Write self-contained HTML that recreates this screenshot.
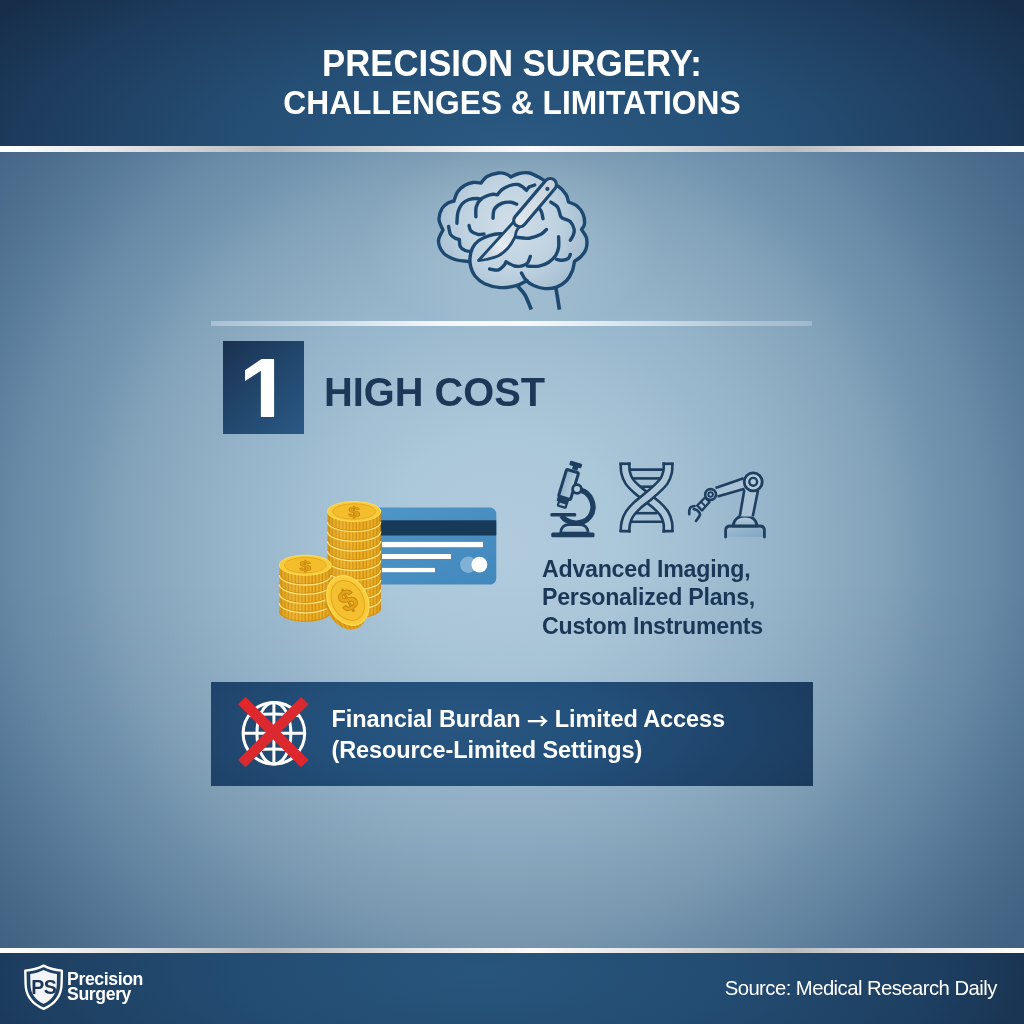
<!DOCTYPE html>
<html><head><meta charset="utf-8">
<style>
html,body{margin:0;padding:0;width:1024px;height:1024px;overflow:hidden;}
body{position:relative;font-family:"Liberation Sans",sans-serif;background:#6d8fab;}
.abs{position:absolute;}
#header{left:0;top:0;width:1024px;height:146px;
 background:radial-gradient(ellipse 620px 240px at 512px 150px,#2a5982 0%,#254e74 45%,#1d3b5c 80%,#162e4a 100%);}
#hline{left:0;top:145.5px;width:1024px;height:6.5px;
 background:linear-gradient(90deg,#ffffff 0%,#e2e4e6 12%,#b9bdc1 26%,#dfe1e3 40%,#fafafa 52%,#e0e2e4 64%,#b8bcc0 77%,#e4e6e8 90%,#ffffff 100%);}
#main{left:0;top:152px;width:1024px;height:796px;
 background:linear-gradient(180deg,rgba(10,30,60,0) 0px,rgba(10,30,60,0) 420px,rgba(10,30,60,0.08) 796px),
 radial-gradient(circle 700px at 503px 398px,#b1cbdd 0px,#abc7da 117px,#a2bfd3 190px,#93b2c8 290px,#83a3ba 380px,#7293ae 440px,#6a8ca8 480px,#5a7c9b 540px,#4d6e8d 600px,#46678a 640px,#41618a 700px);}
#fline{left:0;top:947.5px;width:1024px;height:5.5px;
 background:linear-gradient(90deg,#ffffff 0%,#e2e4e6 12%,#b9bdc1 26%,#dfe1e3 40%,#fafafa 52%,#e0e2e4 64%,#b8bcc0 77%,#e4e6e8 90%,#ffffff 100%);}
#footer{left:0;top:953px;width:1024px;height:71px;
 background:radial-gradient(ellipse 620px 200px at 480px 20px,#28557c 0%,#234c72 40%,#1d3e60 75%,#172d48 100%);}
.title{color:#fff;font-weight:700;white-space:nowrap;left:0;width:1024px;text-align:center;}
#t1{top:44px;font-size:36.3px;line-height:40px;transform:scaleX(0.956);}
#t2{top:85px;font-size:32.4px;line-height:36px;transform:scaleX(0.98);}
#sep{left:211px;top:321px;width:601px;height:5px;
 background:linear-gradient(90deg,rgba(235,242,247,.35) 0%,rgba(240,245,249,.6) 18%,rgba(248,250,252,.95) 38%,rgba(250,252,253,.97) 52%,rgba(240,245,249,.7) 70%,rgba(230,238,244,.4) 88%,rgba(225,235,242,.3) 100%);}
#glow{left:362px;top:150px;width:300px;height:190px;
 background:radial-gradient(ellipse 150px 95px at 150px 90px,rgba(225,238,246,0.22) 0%,rgba(225,238,246,0.1) 55%,rgba(225,238,246,0) 100%);}
#numbox{left:223px;top:341px;width:81px;height:93px;
 background:linear-gradient(135deg,#1a3150 0%,#22476d 50%,#2a5986 100%);}
#numclip{left:230px;top:358px;width:60px;height:59px;overflow:hidden;}
#num{left:8.4px;top:-14.5px;color:#fff;font-weight:700;font-size:96px;line-height:96px;transform-origin:0 0;transform:scaleY(1.035);}
#hc{left:324px;top:370px;font-size:39.8px;line-height:44px;font-weight:700;color:#1c3858;white-space:nowrap;}
#body{left:542px;top:555px;font-size:23.2px;line-height:28.3px;letter-spacing:-0.25px;font-weight:700;color:#1b3757;white-space:nowrap;}
#banner{left:211px;top:682px;width:602px;height:104px;
 background:radial-gradient(ellipse 420px 150px at 250px 45px,#285680 0%,#23507a 35%,#1f446b 65%,#1a3858 100%);}
#btxt{left:331.5px;top:704px;font-size:23.5px;line-height:31px;letter-spacing:-0.1px;font-weight:700;color:#fff;white-space:nowrap;}
.arr{font-family:"Noto Sans CJK JP","Liberation Sans",sans-serif;font-weight:700;line-height:0;font-size:21.5px;position:relative;top:1.5px;}
#src{left:724.7px;top:975.5px;font-size:20.3px;line-height:24px;letter-spacing:-0.55px;color:#fff;white-space:nowrap;}
#logo{left:67px;top:971.6px;font-size:17.7px;line-height:15.2px;letter-spacing:-0.4px;font-weight:700;color:#fff;white-space:nowrap;}
</style></head>
<body>
<div id="header" class="abs"></div>
<div id="hline" class="abs"></div>
<div id="main" class="abs"></div>
<div id="fline" class="abs"></div>
<div id="footer" class="abs"></div>

<div id="t1" class="abs title">PRECISION SURGERY:</div>
<div id="t2" class="abs title">CHALLENGES &amp; LIMITATIONS</div>

<div id="glow" class="abs"></div>
<div id="sep" class="abs"></div>
<div id="numbox" class="abs"></div>
<div id="numclip" class="abs"><div id="num" class="abs">1</div></div>
<div id="hc" class="abs">HIGH COST</div>

<div id="body" class="abs">Advanced Imaging,<br>Personalized Plans,<br>Custom Instruments</div>

<div id="banner" class="abs"></div>
<div id="btxt" class="abs">Financial Burdan <span class="arr">→</span> Limited Access<br>(Resource-Limited Settings)</div>

<svg class="abs" style="left:0;top:0" width="1024" height="1024" viewBox="0 0 1024 1024">
<defs>
<radialGradient id="brainfill" cx="510" cy="225" r="75" gradientUnits="userSpaceOnUse">
<stop offset="0" stop-color="#d0dee9"/><stop offset="0.6" stop-color="#c0d3e1"/><stop offset="1" stop-color="#a9c1d4"/></radialGradient>
<linearGradient id="bladefill" x1="480" y1="260" x2="518" y2="225" gradientUnits="userSpaceOnUse">
<stop offset="0" stop-color="#b8c8d6"/><stop offset="0.5" stop-color="#e6edf2"/><stop offset="1" stop-color="#c9d6e0"/></linearGradient>
<linearGradient id="handlefill" x1="520" y1="220" x2="550" y2="185" gradientUnits="userSpaceOnUse">
<stop offset="0" stop-color="#dfe6ec"/><stop offset="1" stop-color="#c6d2dc"/></linearGradient>
<linearGradient id="mtube" x1="0" y1="0" x2="1" y2="0">
<stop offset="0" stop-color="#94b3cb"/><stop offset="1" stop-color="#b6cddd"/></linearGradient>
<linearGradient id="mdome" x1="0" y1="0" x2="0" y2="1">
<stop offset="0" stop-color="#b9cfdf"/><stop offset="1" stop-color="#9dbad0"/></linearGradient>
<linearGradient id="rdome" x1="0" y1="0" x2="0" y2="1">
<stop offset="0" stop-color="#b5ccdc"/><stop offset="1" stop-color="#98b6cd"/></linearGradient>
<linearGradient id="rbase" x1="0" y1="0" x2="1" y2="1">
<stop offset="0" stop-color="#a4bfd4"/><stop offset="1" stop-color="#7fa5c4"/></linearGradient>
<pattern id="reed" patternUnits="userSpaceOnUse" width="3.4" height="10">
<rect width="3.4" height="10" fill="#eeae22"/><rect x="2.1" width="1.3" height="10" fill="#cc8d12"/></pattern>
<linearGradient id="coinshade" x1="0" y1="0" x2="1" y2="0">
<stop offset="0" stop-color="#b87a08" stop-opacity="0.35"/><stop offset="0.3" stop-color="#ffe070" stop-opacity="0.15"/><stop offset="0.7" stop-color="#ffe070" stop-opacity="0"/><stop offset="1" stop-color="#b87a08" stop-opacity="0.35"/></linearGradient>
<linearGradient id="cardfill" x1="0" y1="0" x2="1" y2="1">
<stop offset="0" stop-color="#4f95c6"/><stop offset="1" stop-color="#4288bd"/></linearGradient>
<linearGradient id="redx" x1="240" y1="700" x2="306" y2="765" gradientUnits="userSpaceOnUse">
<stop offset="0" stop-color="#e3262b"/><stop offset="0.5" stop-color="#d92a2f"/><stop offset="1" stop-color="#e1252b"/></linearGradient>
</defs>
<path d="M469.0,261.5 C466.7,261.2 459.2,260.9 455.0,259.5 C450.8,258.1 446.2,256.1 443.5,253.0 C440.8,249.9 438.6,244.8 438.5,241.0 C438.4,237.2 442.2,231.8 443.0,230.0 C442.3,228.2 439.2,223.1 439.0,219.5 C438.8,215.9 440.5,211.2 442.0,208.5 C443.5,205.8 446.0,204.2 448.0,203.0 C450.0,201.8 453.0,201.3 454.0,201.0 C454.6,199.5 455.8,194.6 457.5,192.0 C459.2,189.4 461.9,187.1 464.5,185.5 C467.1,183.9 470.2,182.9 473.0,182.5 C475.8,182.1 479.7,182.9 481.0,183.0 C482.0,181.9 484.1,178.2 487.0,176.5 C489.9,174.8 495.3,173.4 498.5,173.0 C501.7,172.6 503.9,173.3 506.0,174.0 C508.1,174.7 510.2,176.5 511.0,177.0 C512.3,176.4 515.9,174.2 519.0,173.5 C522.1,172.8 525.8,172.2 529.5,173.0 C533.2,173.8 537.6,176.7 541.0,178.5 C544.4,180.3 547.1,182.7 550.0,184.0 C552.9,185.3 555.8,184.8 558.5,186.5 C561.2,188.2 564.3,191.9 566.0,194.5 C567.7,197.1 568.1,200.8 568.5,202.0 C569.9,202.7 574.6,204.0 577.0,206.0 C579.4,208.0 581.8,211.0 583.0,214.0 C584.2,217.0 584.8,221.4 584.5,224.0 C584.2,226.6 582.0,228.6 581.5,229.5 C582.3,230.9 585.8,234.8 586.5,238.0 C587.2,241.2 586.9,245.9 586.0,249.0 C585.1,252.1 582.9,254.4 581.0,256.5 C579.1,258.6 575.6,260.5 574.5,261.3 C574.1,262.9 573.6,267.8 572.3,271.0 C570.9,274.2 569.0,278.1 566.4,280.8 C563.8,283.5 560.2,285.8 556.6,287.1 C553.0,288.4 548.6,288.8 544.9,288.6 C541.2,288.4 537.3,287.0 534.2,285.7 C531.1,284.4 527.7,281.6 526.4,280.8 C524.7,281.6 520.4,284.6 516.0,285.7 C511.6,286.8 505.5,287.9 500.3,287.6 C495.1,287.3 488.9,285.6 484.7,283.7 C480.5,281.8 477.3,278.8 475.0,276.0 C472.7,273.2 471.8,269.4 470.8,267.0 C469.8,264.6 469.3,262.4 469.0,261.5 Z" fill="url(#brainfill)" stroke="none"/>
<g fill="none" stroke="#1d4970" stroke-width="3.4" stroke-linecap="round" stroke-linejoin="round">
<path d="M469.0,261.5 C466.7,261.2 459.2,260.9 455.0,259.5 C450.8,258.1 446.2,256.1 443.5,253.0 C440.8,249.9 438.6,244.8 438.5,241.0 C438.4,237.2 442.2,231.8 443.0,230.0 C442.3,228.2 439.2,223.1 439.0,219.5 C438.8,215.9 440.5,211.2 442.0,208.5 C443.5,205.8 446.0,204.2 448.0,203.0 C450.0,201.8 453.0,201.3 454.0,201.0 C454.6,199.5 455.8,194.6 457.5,192.0 C459.2,189.4 461.9,187.1 464.5,185.5 C467.1,183.9 470.2,182.9 473.0,182.5 C475.8,182.1 479.7,182.9 481.0,183.0 C482.0,181.9 484.1,178.2 487.0,176.5 C489.9,174.8 495.3,173.4 498.5,173.0 C501.7,172.6 503.9,173.3 506.0,174.0 C508.1,174.7 510.2,176.5 511.0,177.0 C512.3,176.4 515.9,174.2 519.0,173.5 C522.1,172.8 525.8,172.2 529.5,173.0 C533.2,173.8 537.6,176.7 541.0,178.5 C544.4,180.3 547.1,182.7 550.0,184.0 C552.9,185.3 555.8,184.8 558.5,186.5 C561.2,188.2 564.3,191.9 566.0,194.5 C567.7,197.1 568.1,200.8 568.5,202.0 C569.9,202.7 574.6,204.0 577.0,206.0 C579.4,208.0 581.8,211.0 583.0,214.0 C584.2,217.0 584.8,221.4 584.5,224.0 C584.2,226.6 582.0,228.6 581.5,229.5 C582.3,230.9 585.8,234.8 586.5,238.0 C587.2,241.2 586.9,245.9 586.0,249.0 C585.1,252.1 582.9,254.4 581.0,256.5 C579.1,258.6 575.6,260.5 574.5,261.3 C574.1,262.9 573.6,267.8 572.3,271.0 C570.9,274.2 569.0,278.1 566.4,280.8 C563.8,283.5 560.2,285.8 556.6,287.1 C553.0,288.4 548.6,288.8 544.9,288.6 C541.2,288.4 537.3,287.0 534.2,285.7 C531.1,284.4 528.5,282.9 526.4,280.8 C524.3,278.7 522.3,274.3 521.5,273.0"/>
<path d="M546.4,229.5 C545.5,230.3 543.9,232.9 541.0,234.3 C538.1,235.8 533.1,237.7 529.3,238.2 C525.5,238.7 521.2,238.0 518.0,237.5 C514.8,237.0 513.0,235.9 510.0,235.3 C507.1,234.7 503.9,233.7 500.3,233.8 C496.7,233.9 492.2,234.7 488.6,235.8 C485.0,236.9 481.5,238.5 478.8,240.5 C476.1,242.5 474.0,245.1 472.5,248.0 C471.0,250.9 470.3,254.8 470.0,258.0 C469.7,261.2 470.0,264.0 470.8,267.0 C471.6,270.0 472.7,273.2 475.0,276.0 C477.3,278.8 480.5,281.8 484.7,283.7 C488.9,285.6 495.1,287.3 500.3,287.6 C505.5,287.9 511.6,286.9 516.0,285.7 C520.5,284.5 525.2,281.4 527.0,280.5"/>
<path d="M456.9,223.3 C457.1,221.4 457.1,215.2 458.0,212.0 C458.9,208.8 460.2,206.1 462.0,204.0 C463.8,201.9 466.5,200.4 469.0,199.5 C471.5,198.6 475.0,198.5 477.0,198.5 C479.0,198.5 480.3,199.3 481.0,199.5"/>
<path d="M493.0,218.2 C493.2,216.7 492.9,211.5 494.5,209.0 C496.1,206.5 499.6,204.2 502.3,203.1 C505.1,202.0 508.6,202.0 511.0,202.2 C513.4,202.4 515.7,203.9 516.6,204.2"/>
<path d="M469.0,225.5 C469.3,226.4 469.5,229.5 471.0,231.0 C472.5,232.5 475.7,233.8 477.9,234.3 C480.1,234.8 483.0,234.1 484.0,234.0"/>
<path d="M539.0,208.0 C539.4,208.7 540.8,210.2 541.5,212.0 C542.2,213.8 542.8,217.6 543.0,218.7"/>
<path d="M558.6,236.8 C558.6,238.6 559.1,244.5 558.6,247.6 C558.1,250.7 557.3,253.0 555.7,255.4 C554.1,257.8 551.6,260.4 548.8,262.2 C546.0,264.0 542.6,265.5 539.0,266.1 C535.4,266.8 529.2,266.1 527.3,266.1"/>
<path d="M570.3,254.4 C570.0,255.1 569.7,257.3 568.4,258.3 C567.1,259.3 564.5,260.1 562.5,260.3 C560.5,260.5 557.6,259.5 556.6,259.3"/>
<path d="M475.9,216.8 C475.9,215.2 475.5,209.8 476.2,207.0 C476.9,204.2 478.3,201.8 480.0,200.0 C481.7,198.2 484.3,196.9 486.5,196.0 C488.7,195.1 491.2,194.5 493.0,194.3 C494.8,194.1 496.7,194.7 497.4,194.8 C498.2,193.9 500.2,191.0 502.3,189.4 C504.4,187.8 507.4,186.3 510.0,185.5 C512.6,184.7 515.7,184.2 517.9,184.5 C520.1,184.8 522.0,186.5 523.4,187.5 C524.8,188.5 526.0,189.9 526.5,190.4 C527.0,189.8 528.1,187.7 529.5,186.8 C530.9,185.9 533.8,185.3 534.7,185.0"/>
<path d="M448.6,226.5 C448.9,227.8 449.4,232.6 450.5,234.5 C451.6,236.4 453.9,237.4 455.4,238.2 C456.9,239.0 458.6,239.3 459.3,239.5 C459.5,240.7 459.3,244.8 460.3,246.6 C461.3,248.4 463.5,249.7 465.2,250.5 C466.9,251.3 469.6,251.3 470.5,251.5"/>
<path d="M550.8,202.1 C551.9,202.9 556.0,204.7 557.6,207.0 C559.2,209.3 559.7,213.9 560.5,215.8 C561.3,217.7 562.2,217.8 562.5,218.2 C563.8,218.8 568.3,219.7 570.3,221.6 C572.2,223.5 573.7,227.2 574.2,229.5 C574.7,231.8 573.9,233.5 573.2,235.3 C572.6,237.1 570.8,239.4 570.3,240.2"/>
<path d="M489.6,269.0 C491.1,269.2 496.0,270.6 498.4,270.0 C500.8,269.4 502.9,266.6 504.2,265.2 C505.5,263.8 505.7,262.4 506.0,261.8 C507.4,262.5 511.9,265.3 514.6,266.0 C517.3,266.7 519.9,266.3 522.0,265.8 C524.1,265.3 526.1,264.6 527.5,263.0 C528.9,261.4 529.8,257.5 530.3,256.4"/>
</g>
<g fill="none" stroke="#1d4970" stroke-width="3.7" stroke-linecap="butt">
<path d="M517.6,286.0 C518.8,287.5 522.7,291.1 525.0,295.0 C527.3,298.9 530.2,307.2 531.3,309.6"/>
<path d="M555.9,288.0 C556.2,289.7 557.0,294.4 557.6,298.0 C558.2,301.6 559.1,307.7 559.4,309.6"/>
</g>
<path d="M513.5,222 L478.5,260.5 C479.8,260.3 482.7,260.3 486.0,259.5 C489.3,258.7 494.7,257.7 498.4,255.8 C502.1,253.9 505.3,251.0 508.0,248.0 C510.7,245.0 513.1,240.8 514.5,238.0 C515.9,235.2 515.6,233.0 516.5,231.0 C517.4,229.0 519.4,226.8 520.0,226.0 Z" fill="url(#bladefill)" stroke="#1f4a70" stroke-width="2.8" stroke-linejoin="round"/>
<line x1="550.3" y1="184.6" x2="519.8" y2="220.6" stroke="#1f4a70" stroke-width="15.4" stroke-linecap="round"/>
<line x1="550.3" y1="184.6" x2="519.8" y2="220.6" stroke="url(#handlefill)" stroke-width="9.2" stroke-linecap="round"/>
<circle cx="547.4" cy="188.9" r="2.1" fill="#1f4a70"/>
<g>
<rect x="372" y="507.6" width="124.3" height="76.9" rx="6.3" fill="url(#cardfill)"/>
<rect x="372" y="520.3" width="124.3" height="15.2" fill="#173a58"/>
<rect x="382" y="541.9" width="101" height="5.3" fill="#ffffff"/>
<rect x="382" y="554" width="69" height="5" fill="#ffffff"/>
<rect x="382" y="567.9" width="53" height="4.3" fill="#ffffff"/>
<circle cx="468.3" cy="564.7" r="8.2" fill="#86b6d8" opacity="0.9"/>
<circle cx="479.4" cy="564.7" r="7.9" fill="#ffffff"/>
</g>
<path d="M327.40000000000003,511.5 L327.40000000000003,608.5 A26.7,10 0 0 0 380.8,608.5 L380.8,511.5 Z" fill="url(#reed)"/>
<path d="M327.40000000000003,511.5 L327.40000000000003,608.5 A26.7,10 0 0 0 380.8,608.5 L380.8,511.5 Z" fill="url(#coinshade)"/>
<path d="M327.40000000000003,520.7 A26.7,10 0 0 0 380.8,520.7" fill="none" stroke="#c58a12" stroke-width="0.9" opacity="0.8"/>
<path d="M327.40000000000003,521.7 A26.7,10 0 0 0 380.8,521.7" fill="none" stroke="#ffe27a" stroke-width="1.3"/>
<path d="M327.40000000000003,530.4 A26.7,10 0 0 0 380.8,530.4" fill="none" stroke="#c58a12" stroke-width="0.9" opacity="0.8"/>
<path d="M327.40000000000003,531.4 A26.7,10 0 0 0 380.8,531.4" fill="none" stroke="#ffe27a" stroke-width="1.3"/>
<path d="M327.40000000000003,540.1 A26.7,10 0 0 0 380.8,540.1" fill="none" stroke="#c58a12" stroke-width="0.9" opacity="0.8"/>
<path d="M327.40000000000003,541.1 A26.7,10 0 0 0 380.8,541.1" fill="none" stroke="#ffe27a" stroke-width="1.3"/>
<path d="M327.40000000000003,549.8 A26.7,10 0 0 0 380.8,549.8" fill="none" stroke="#c58a12" stroke-width="0.9" opacity="0.8"/>
<path d="M327.40000000000003,550.8 A26.7,10 0 0 0 380.8,550.8" fill="none" stroke="#ffe27a" stroke-width="1.3"/>
<path d="M327.40000000000003,559.5 A26.7,10 0 0 0 380.8,559.5" fill="none" stroke="#c58a12" stroke-width="0.9" opacity="0.8"/>
<path d="M327.40000000000003,560.5 A26.7,10 0 0 0 380.8,560.5" fill="none" stroke="#ffe27a" stroke-width="1.3"/>
<path d="M327.40000000000003,569.2 A26.7,10 0 0 0 380.8,569.2" fill="none" stroke="#c58a12" stroke-width="0.9" opacity="0.8"/>
<path d="M327.40000000000003,570.2 A26.7,10 0 0 0 380.8,570.2" fill="none" stroke="#ffe27a" stroke-width="1.3"/>
<path d="M327.40000000000003,578.9 A26.7,10 0 0 0 380.8,578.9" fill="none" stroke="#c58a12" stroke-width="0.9" opacity="0.8"/>
<path d="M327.40000000000003,579.9 A26.7,10 0 0 0 380.8,579.9" fill="none" stroke="#ffe27a" stroke-width="1.3"/>
<path d="M327.40000000000003,588.6 A26.7,10 0 0 0 380.8,588.6" fill="none" stroke="#c58a12" stroke-width="0.9" opacity="0.8"/>
<path d="M327.40000000000003,589.6 A26.7,10 0 0 0 380.8,589.6" fill="none" stroke="#ffe27a" stroke-width="1.3"/>
<path d="M327.40000000000003,598.3 A26.7,10 0 0 0 380.8,598.3" fill="none" stroke="#c58a12" stroke-width="0.9" opacity="0.8"/>
<path d="M327.40000000000003,599.3 A26.7,10 0 0 0 380.8,599.3" fill="none" stroke="#ffe27a" stroke-width="1.3"/>
<path d="M327.40000000000003,608.0 A26.7,10 0 0 0 380.8,608.0" fill="none" stroke="#c58a12" stroke-width="0.9" opacity="0.8"/>
<ellipse cx="354.1" cy="511.5" rx="26.7" ry="10" fill="#f9cc3c" stroke="#ffdc55" stroke-width="1"/>
<ellipse cx="354.1" cy="511.5" rx="21.4" ry="7.8" fill="#f4bd2c" stroke="#e2a21e" stroke-width="0.8"/>
<text x="354.1" y="519.1" font-family="Liberation Sans, sans-serif" font-weight="700" font-size="21" fill="#e6a61e" stroke="#c4860c" stroke-width="0.9" text-anchor="middle" transform="translate(0 153.4) scale(1 0.7)">$</text>
<path d="M279.3,565.2 L279.3,611.7 A26,10 0 0 0 331.3,611.7 L331.3,565.2 Z" fill="url(#reed)"/>
<path d="M279.3,565.2 L279.3,611.7 A26,10 0 0 0 331.3,611.7 L331.3,565.2 Z" fill="url(#coinshade)"/>
<path d="M279.3,574.0 A26,10 0 0 0 331.3,574.0" fill="none" stroke="#c58a12" stroke-width="0.9" opacity="0.8"/>
<path d="M279.3,575.0 A26,10 0 0 0 331.3,575.0" fill="none" stroke="#ffe27a" stroke-width="1.3"/>
<path d="M279.3,583.3000000000001 A26,10 0 0 0 331.3,583.3000000000001" fill="none" stroke="#c58a12" stroke-width="0.9" opacity="0.8"/>
<path d="M279.3,584.3000000000001 A26,10 0 0 0 331.3,584.3000000000001" fill="none" stroke="#ffe27a" stroke-width="1.3"/>
<path d="M279.3,592.6 A26,10 0 0 0 331.3,592.6" fill="none" stroke="#c58a12" stroke-width="0.9" opacity="0.8"/>
<path d="M279.3,593.6 A26,10 0 0 0 331.3,593.6" fill="none" stroke="#ffe27a" stroke-width="1.3"/>
<path d="M279.3,601.9000000000001 A26,10 0 0 0 331.3,601.9000000000001" fill="none" stroke="#c58a12" stroke-width="0.9" opacity="0.8"/>
<path d="M279.3,602.9000000000001 A26,10 0 0 0 331.3,602.9000000000001" fill="none" stroke="#ffe27a" stroke-width="1.3"/>
<path d="M279.3,611.2 A26,10 0 0 0 331.3,611.2" fill="none" stroke="#c58a12" stroke-width="0.9" opacity="0.8"/>
<ellipse cx="305.3" cy="565.2" rx="26" ry="10" fill="#f9cc3c" stroke="#ffdc55" stroke-width="1"/>
<ellipse cx="305.3" cy="565.2" rx="20.8" ry="7.8" fill="#f4bd2c" stroke="#e2a21e" stroke-width="0.8"/>
<text x="305.3" y="572.8" font-family="Liberation Sans, sans-serif" font-weight="700" font-size="21" fill="#e6a61e" stroke="#c4860c" stroke-width="0.9" text-anchor="middle" transform="translate(0 169.6) scale(1 0.7)">$</text>
<g transform="translate(347.8 600.5) rotate(-28)">
<ellipse cx="-3.5" cy="3" rx="19.5" ry="26" fill="url(#reed)"/>
<ellipse cx="-3.5" cy="3" rx="19.5" ry="26" fill="#c98d14" opacity="0.25"/>
<ellipse cx="0" cy="0" rx="19.5" ry="26" fill="#f9cc3c" stroke="#ffdc55" stroke-width="1.2"/>
<ellipse cx="0" cy="0" rx="15.5" ry="21" fill="#f5c030" stroke="#e2a21e" stroke-width="0.9"/>
<text x="0" y="10" font-family="Liberation Sans, sans-serif" font-weight="700" font-size="30" fill="#e6a61e" stroke="#c4860c" stroke-width="1" text-anchor="middle">$</text>
</g>
<g fill="#1e3f60">
<rect x="569.5" y="462.2" width="12.5" height="4.6" rx="1" transform="rotate(17 575.7 464.5)"/>
<rect x="572.6" y="465" width="5.6" height="5" transform="rotate(17 575.4 467.5)"/>
</g>
<rect x="562.3" y="470.5" width="12.5" height="28" rx="1.5" fill="url(#mtube)" stroke="#1e3f60" stroke-width="3" transform="rotate(17 568.6 484.5)"/>
<rect x="556.8" y="498.5" width="12" height="4" rx="0.8" fill="#1e3f60" transform="rotate(17 562.8 500.5)"/>
<rect x="558.2" y="502.4" width="8.2" height="4.4" rx="0.8" fill="#a7c1d5" stroke="#1e3f60" stroke-width="2.2" transform="rotate(17 562.3 504.6)"/>
<path d="M579.0,489.5 C580.2,490.1 584.4,491.2 586.5,493.0 C588.6,494.8 590.4,497.5 591.5,500.0 C592.6,502.5 593.2,505.2 593.0,508.0 C592.8,510.8 591.7,514.2 590.0,516.5 C588.3,518.8 585.7,520.7 583.0,521.8 C580.3,522.9 576.8,523.3 574.0,523.0 C571.2,522.7 568.1,521.2 566.0,520.0 C563.9,518.8 562.2,516.2 561.5,515.5" fill="none" stroke="#1e3f60" stroke-width="5.4" stroke-linecap="butt"/>
<circle cx="577" cy="489" r="4.4" fill="#b3cadb" stroke="#1e3f60" stroke-width="2.8"/>
<rect x="550.3" y="513" width="26" height="3.6" rx="1.5" fill="#1e3f60"/>
<path d="M560.6,533 C561,527 564.5,524.6 569,524.6 L580,524.6 C585,524.6 587.8,527.5 588.2,533 Z" fill="url(#mdome)" stroke="#1e3f60" stroke-width="2.6"/>
<rect x="551.2" y="532.4" width="43.3" height="4.9" rx="1.6" fill="#1e3f60"/>
<line x1="629" y1="469.6" x2="664" y2="469.6" stroke="#1e3f60" stroke-width="2.6"/>
<line x1="632" y1="478.4" x2="661" y2="478.4" stroke="#1e3f60" stroke-width="2.6"/>
<line x1="640" y1="486.7" x2="654" y2="486.7" stroke="#1e3f60" stroke-width="2.6"/>
<line x1="636" y1="513.2" x2="657" y2="513.2" stroke="#1e3f60" stroke-width="2.6"/>
<line x1="630" y1="521.8" x2="663" y2="521.8" stroke="#1e3f60" stroke-width="2.6"/>
<path d="M625.0,462.5 C625.1,464.1 624.8,468.9 625.5,472.0 C626.2,475.1 627.1,478.1 629.0,481.0 C630.9,483.9 634.0,486.8 637.0,489.5 C640.0,492.2 643.6,494.7 646.9,497.4 C650.2,500.1 654.1,502.7 657.0,505.5 C659.9,508.3 662.7,511.1 664.5,514.0 C666.3,516.9 667.2,519.9 667.8,523.0 C668.4,526.1 668.0,530.8 668.1,532.4" fill="none" stroke="#1e3f60" stroke-width="11.2"/>
<path d="M625.0,462.5 C625.1,464.1 624.8,468.9 625.5,472.0 C626.2,475.1 627.1,478.1 629.0,481.0 C630.9,483.9 634.0,486.8 637.0,489.5 C640.0,492.2 643.6,494.7 646.9,497.4 C650.2,500.1 654.1,502.7 657.0,505.5 C659.9,508.3 662.7,511.1 664.5,514.0 C666.3,516.9 667.2,519.9 667.8,523.0 C668.4,526.1 668.0,530.8 668.1,532.4" fill="none" stroke="#aec7d9" stroke-width="6"/>
<path d="M668.1,462.5 C668.0,464.1 668.3,468.9 667.6,472.0 C666.9,475.1 665.9,478.1 664.0,481.0 C662.1,483.9 658.9,486.8 656.0,489.5 C653.1,492.2 650.1,494.7 646.9,497.4 C643.7,500.1 639.9,502.7 637.0,505.5 C634.1,508.3 631.4,511.1 629.5,514.0 C627.6,516.9 626.5,519.9 625.8,523.0 C625.0,526.1 625.1,530.8 625.0,532.4" fill="none" stroke="#1e3f60" stroke-width="11.2"/>
<path d="M668.1,462.5 C668.0,464.1 668.3,468.9 667.6,472.0 C666.9,475.1 665.9,478.1 664.0,481.0 C662.1,483.9 658.9,486.8 656.0,489.5 C653.1,492.2 650.1,494.7 646.9,497.4 C643.7,500.1 639.9,502.7 637.0,505.5 C634.1,508.3 631.4,511.1 629.5,514.0 C627.6,516.9 626.5,519.9 625.8,523.0 C625.0,526.1 625.1,530.8 625.0,532.4" fill="none" stroke="#aec7d9" stroke-width="6"/>
<rect x="619.4" y="462.5" width="11.2" height="2.6" fill="#1e3f60"/>
<rect x="662.5" y="462.5" width="11.2" height="2.6" fill="#1e3f60"/>
<rect x="619.4" y="529.8" width="11.2" height="2.6" fill="#1e3f60"/>
<rect x="662.5" y="529.8" width="11.2" height="2.6" fill="#1e3f60"/>
<path d="M725.6,537 L725.6,530.5 Q725.6,526 730.5,526 L759.8,526 Q764.4,526 764.4,530.5 L764.4,537" fill="url(#rbase)" stroke="#1e3f60" stroke-width="2.8" stroke-linecap="round"/>
<path d="M733.2,526 C733.5,519.5 738.5,516 745,516 C751.5,516 756.5,519.5 757,526 Z" fill="url(#rdome)" stroke="#1e3f60" stroke-width="2.8"/>
<path d="M744.5,489 L740,516.5 L752.5,516.5 L757.8,490 Z" fill="#a9c2d6"/>
<line x1="744.3" y1="490" x2="739.8" y2="516.3" stroke="#1e3f60" stroke-width="2.6"/>
<line x1="758" y1="490.5" x2="752.8" y2="516.3" stroke="#1e3f60" stroke-width="2.6"/>
<path d="M715.8,487.8 L743.3,478.3 L744.2,488.6 L717.5,496.4 Z" fill="#a9c2d6"/>
<line x1="715.5" y1="488" x2="743.6" y2="478.3" stroke="#1e3f60" stroke-width="2.6"/>
<line x1="717.5" y1="496.6" x2="744.6" y2="488.7" stroke="#1e3f60" stroke-width="2.6"/>
<path d="M705,497.5 L697.2,505.5 L702,510.5 L709.5,502 Z" fill="#a9c2d6" stroke="#1e3f60" stroke-width="2.4" stroke-linejoin="round"/>
<line x1="700.8" y1="501.6" x2="705.6" y2="506.4" stroke="#1e3f60" stroke-width="2"/>
<path d="M694.5,506.0 C693.9,506.2 691.9,506.3 691.0,507.0 C690.1,507.7 689.7,508.8 689.4,510.0 C689.1,511.2 689.3,513.5 689.3,514.2" fill="none" stroke="#1e3f60" stroke-width="2.6" stroke-linecap="round"/>
<path d="M693.8,509.0 C694.4,509.2 696.5,509.6 697.5,510.5 C698.5,511.4 700.2,512.8 700.0,514.5 C699.8,516.2 696.7,519.9 696.0,521.0" fill="none" stroke="#1e3f60" stroke-width="2.6" stroke-linecap="round"/>
<circle cx="753.2" cy="481.8" r="9" fill="#b3cadb" stroke="#1e3f60" stroke-width="2.8"/>
<circle cx="753.2" cy="481.8" r="3.9" fill="#b3cadb" stroke="#1e3f60" stroke-width="2.4"/>
<circle cx="710.6" cy="494.5" r="5.4" fill="#b3cadb" stroke="#1e3f60" stroke-width="2.6"/>
<circle cx="710.6" cy="494.5" r="2.3" fill="#b3cadb" stroke="#1e3f60" stroke-width="2"/>
<g fill="none" stroke="#ffffff" stroke-width="3">
<circle cx="273.9" cy="733.3" r="30.8"/>
<ellipse cx="273.9" cy="733.3" rx="17" ry="30.8"/>
<line x1="273.9" y1="702.5" x2="273.9" y2="764.0999999999999"/>
<line x1="243.09999999999997" y1="733.3" x2="304.7" y2="733.3"/>
<path d="M248.89999999999998,715.8 Q273.9,712.3 298.9,715.8"/>
<path d="M248.89999999999998,750.8 Q273.9,747.3 298.9,750.8"/>
</g>
<g stroke="url(#redx)" stroke-width="10.5" stroke-linecap="butt">
<line x1="241.8" y1="700.6" x2="304.8" y2="763.6"/>
<line x1="304.8" y1="700.6" x2="241.8" y2="763.6"/>
</g>
<path d="M43.6,965.6 C37.5,968.8 31.5,970.2 25.3,970.6 L25.6,984 C25.8,996.5 33.5,1004.5 43.6,1008.8 C53.7,1004.5 61.4,996.5 61.6,984 L61.9,970.6 C55.7,970.2 49.7,968.8 43.6,965.6 Z" fill="none" stroke="#ffffff" stroke-width="2.4" stroke-linejoin="round"/>
<path d="M43.6,970 C38.8,972.4 34.5,973.6 30.2,974 L30.4,984.5 C30.6,994.2 36,1000.5 43.6,1003.8 C51.2,1000.5 56.6,994.2 56.8,984.5 L57,974 C52.7,973.6 48.4,972.4 43.6,970 Z" fill="#f2f4f7"/>
<text x="43.8" y="993.6" font-family="Liberation Sans, sans-serif" font-weight="700" font-size="19.5" fill="#1b3556" text-anchor="middle" letter-spacing="-0.5">PS</text>
</svg>
<div id="logo" class="abs">Precision<br>Surgery</div>
<div id="src" class="abs">Source: Medical Research Daily</div>
</body></html>
